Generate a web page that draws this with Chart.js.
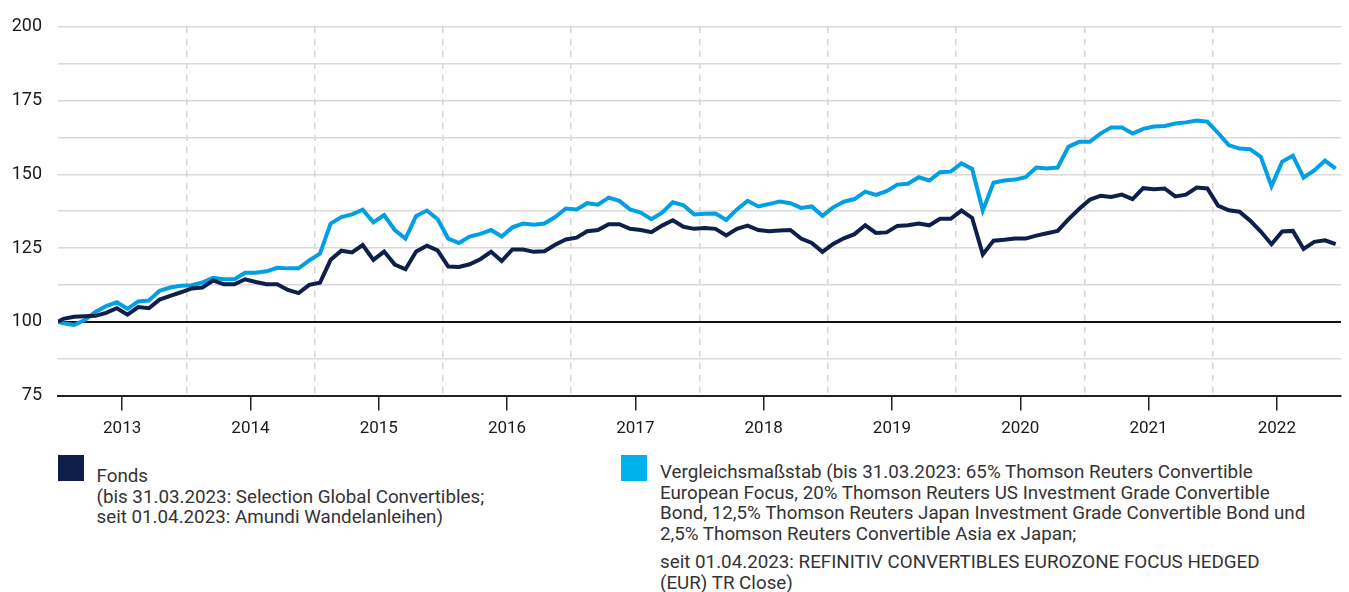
<!DOCTYPE html>
<html><head><meta charset="utf-8">
<script src="https://cdn.jsdelivr.net/npm/chart.js@4.4.1/dist/chart.umd.min.js"></script>
<style>
html,body{margin:0;padding:0;background:#fff;}
body{width:1349px;height:592px;position:relative;overflow:hidden;font-family:Roboto, sans-serif;}
#wrap{position:absolute;left:0;top:0;width:1349px;height:450px;}
.sq{position:absolute;}
.txt{position:absolute;font-size:18.5px;line-height:20.7px;color:#333;white-space:nowrap;}
.gap{display:block;height:7px;}
</style></head><body>
<div id="wrap"><canvas id="c"></canvas></div>
<div class="sq" style="left:58px;top:455px;width:26px;height:26px;background:#0e1d4a"></div>
<div class="txt" id="t1" style="left:96.5px;top:466px">Fonds<br><span id="m1">(bis 31.03.2023: Selection Global Convertibles;</span><br>seit 01.04.2023: Amundi Wandelanleihen)</div>
<div class="sq" style="left:621px;top:455px;width:26px;height:26px;background:#00b2ec"></div>
<div class="txt" id="t2" style="left:660px;top:462px">Vergleichsmaßstab (bis 31.03.2023: 65% Thomson Reuters Convertible<br>European Focus, 20% Thomson Reuters US Investment Grade Convertible<br><span id="m2">Bond, 12,5% Thomson Reuters Japan Investment Grade Convertible Bond und</span><br>2,5% Thomson Reuters Convertible Asia ex Japan;<span class="gap"></span>seit 01.04.2023: REFINITIV CONVERTIBLES EUROZONE FOCUS HEDGED<br>(EUR) TR Close)</div>
<script>
const years = ['2013','2014','2015','2016','2017','2018','2019','2020','2021','2022'];
const fonds = [100,101,101.7,101.9,102,103,104.6,102.4,105,104.6,107.5,108.8,110,
111.3,111.6,114,112.7,112.7,114.4,113.5,112.7,112.7,110.8,109.7,112.5,
113.2,121,124.1,123.5,126,121,123.8,119.4,117.8,123.8,125.8,124.2,
118.7,118.6,119.5,121.2,123.7,120.6,124.5,124.5,123.7,123.9,126.1,127.9,
128.5,130.7,131.1,133.1,133.1,131.5,131.1,130.4,132.6,134.4,132.2,131.5,
131.8,131.5,129.3,131.5,132.6,131.1,130.7,130.9,131.1,128.2,126.7,123.7,
126.4,128.3,129.7,132.7,130.1,130.3,132.5,132.7,133.3,132.7,134.9,134.9,
137.7,135.2,122.8,127.5,127.8,128.2,128.2,129.2,130,130.8,134.7,138.2,
141.4,142.7,142.3,143.1,141.6,145.3,144.9,145.2,142.5,143.1,145.5,145.2,
139.4,137.8,137.3,134.3,130.6,126.3,130.6,130.8,124.7,127.1,127.6,126.3];
const benchmark = [100,99.5,98.9,100.6,103.3,105.3,106.6,104.4,106.9,107.2,110.5,111.6,112.2,
112.4,113.3,114.9,114.4,114.4,116.6,116.6,117.1,118.3,118.1,118.1,120.8,
123.1,133.3,135.5,136.4,138,133.7,136.2,131.1,128.2,135.9,137.7,134.8,
128.2,126.7,128.9,129.8,131.1,128.9,132,133.3,132.9,133.3,135.5,138.4,
138.1,140.2,139.7,142.1,141,138.1,137,134.8,137,140.5,139.5,136.4,
136.6,136.7,134.5,138.1,141,139.1,139.9,140.8,140.2,138.6,139.1,135.9,
138.8,140.7,141.6,144.1,143,144.3,146.5,146.8,149,147.9,150.7,150.9,
153.7,151.8,137.7,147.1,147.9,148.2,149,152.3,152,152.3,159.3,161,
161,163.8,165.9,165.9,163.8,165.4,166.2,166.4,167.2,167.6,168.2,167.8,
164,159.9,158.7,158.5,155.9,146,154.3,156.3,148.9,151.3,154.6,151.9];

// fit legend text widths to the reference line lengths
function fitText(boxId, lineId, target) {
  const box = document.getElementById(boxId), line = document.getElementById(lineId);
  const w = line.getBoundingClientRect().width;
  if (w > 0) box.style.fontSize = (18.5 * target / w).toFixed(2) + 'px';
}
fitText('t1', 'm1', 388);
fitText('t2', 'm2', 646);

// month position: start value at 0, monthly values at mid-month
const toPoints = arr => arr.map((v, i) => ({x: i === 0 ? 0 : i - 0.5, y: v}));

new Chart(document.getElementById('c'), {
  type: 'line',
  data: {
    datasets: [
      {label: 'Fonds', data: toPoints(fonds), borderColor: '#0f1f4b', backgroundColor: '#0e1d4a', borderWidth: 4, pointRadius: 0, tension: 0},
      {label: 'Vergleichsmaßstab', data: toPoints(benchmark), borderColor: '#02a0e2', backgroundColor: '#00b2ec', borderWidth: 4, pointRadius: 0, tension: 0}
    ]
  },
  options: {
    responsive: true,
    maintainAspectRatio: false,
    animation: false,
    layout: {padding: {top: 17.5, right: 6, left: 0, bottom: 0}},
    plugins: {legend: {display: false}, tooltip: {enabled: false}},
    scales: {
      x: {
        type: 'linear', min: 0, max: 120,
        afterBuildTicks: s => { s.ticks = []; for (let v = 0; v <= 120; v += 6) s.ticks.push({value: v}); },
        afterFit: s => { s.height = 54.5; },
        ticks: {autoSkip: false, maxRotation: 0, padding: 8, color: '#1a1a1a', font: {family: 'Roboto', size: 17},
          callback: v => (v % 12 === 6 ? years[(v - 6) / 12] : '')},
        grid: {
          color: c => (c.tick && c.tick.value % 12 === 0 && c.tick.value > 0 && c.tick.value < 120) ? '#d4d4d4' : 'transparent',
          lineWidth: 1.5,
          tickColor: c => (c.tick && c.tick.value % 12 === 6) ? '#222' : 'transparent',
          tickLength: 15, tickWidth: 1.5, drawTicks: true
        },
        border: {display: true, color: '#222', width: 2, dash: [6, 6]}
      },
      y: {
        min: 75, max: 200,
        afterBuildTicks: s => { s.ticks = []; for (let v = 75; v <= 200; v += 12.5) s.ticks.push({value: v}); },
        afterFit: s => { s.width = 58; },
        ticks: {padding: 16, color: '#1a1a1a', font: {family: 'Roboto', size: 18},
          callback: v => (v % 25 === 0 ? String(v) : '')},
        grid: {
          color: c => { const v = c.tick && c.tick.value; return v === 100 ? '#111' : (v === 75 ? 'transparent' : '#dadada'); },
          lineWidth: c => (c.tick && c.tick.value === 100 ? 2 : 1.5),
          drawTicks: false
        },
        border: {display: false}
      }
    }
  }
});
</script>
</body></html>
